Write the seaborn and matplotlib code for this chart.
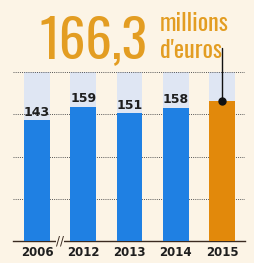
import numpy as np
import pandas as pd
import matplotlib.pyplot as plt
import seaborn as sns
from matplotlib import font_manager as fm

# chart values
years = ["2006", "2012", "2013", "2014", "2015"]
values = [143, 159, 151, 158, 166.3]
labels = ["143", "159", "151", "158", ""]
grid_levels = [50, 100, 150, 200]
y_top = 200
headline = "166,3"
unit_lines = ["millions", "d'euros"]

bg = "#fcf4e6"
blue = "#1f80e3"
orange = "#e2890b"
track = "#dfe6f3"
gold = "#e39d22"

sns.set_theme(style="white")
plt.rcParams["font.family"] = ["DejaVu Sans"]

installed = {f.name for f in fm.fontManager.ttflist}
if "Oswald" in installed:
    head_font, big, small, big_w = "Oswald", 38, 17.5, "bold"
else:
    head_font, big, small, big_w = "DejaVu Sans", 28, 11, "bold"

fig = plt.figure(figsize=(2.54, 2.63), dpi=100, facecolor=bg)
ax = fig.add_axes([0.051, 0.084, 0.914, 0.645])
ax.set_facecolor(bg)

df = pd.DataFrame({"year": years, "value": values, "track": [y_top] * len(years)})

# pale full-height columns behind the bars
sns.barplot(data=df, x="year", y="track", color=track, saturation=1,
            width=0.56, ax=ax, zorder=1)
for p in ax.patches:
    p.set_edgecolor("none")

# dotted gridlines
ax.hlines(grid_levels, -0.52, 4.5, colors="#555555", linestyles=(0, (1, 1.2)),
          linewidth=0.7, zorder=2)

n_track = len(ax.patches)
sns.barplot(data=df, x="year", y="value", hue="year", saturation=1,
            palette=[blue, blue, blue, blue, orange], legend=False,
            width=0.56, ax=ax, zorder=3)
for p in ax.patches[n_track:]:
    p.set_edgecolor("none")

ax.set_xlim(-0.52, 4.5)
ax.set_ylim(0, y_top + 1)

for sp in ["top", "left", "right"]:
    ax.spines[sp].set_visible(False)
ax.spines["bottom"].set_color("#3a2a20")
ax.spines["bottom"].set_linewidth(1.0)
ax.set_yticks([])
ax.set_xlabel("")
ax.set_ylabel("")
ax.tick_params(axis="x", length=0, pad=4)
ax.set_xticks(range(len(years)))
ax.set_xticklabels(years, fontsize=8.5, color="#1e1e1e", fontweight="bold")
ax.get_xticklabels()[-1].set_fontweight("heavy")

# value labels
for i, (v, lab) in enumerate(zip(values, labels)):
    if lab:
        ax.text(i, v + 1.5, lab, ha="center", va="bottom", fontsize=9,
                fontweight="semibold", color="#1e1e1e", zorder=5)

# axis break mark
ax.text(0.5, 0, "//", ha="center", va="center", fontsize=8.5, color="#3a2a20",
        zorder=6, bbox=dict(boxstyle="square,pad=0.0", fc=bg, ec="none"))

# pointer from last bar to the headline
ax.plot([4, 4], [values[-1], 228], color="#111111", lw=1, clip_on=False, zorder=6)
ax.plot(4, values[-1], "o", color="#111111", ms=5, clip_on=False, zorder=7)

# headline
fig.text(0.155, 0.78, headline, fontsize=big, fontweight=big_w, color=gold,
         family=[head_font, "DejaVu Sans"], ha="left", va="baseline")
fig.text(0.628, 0.882, unit_lines[0], fontsize=small, fontweight=big_w, color=gold,
         family=[head_font, "DejaVu Sans"], ha="left", va="baseline")
fig.text(0.628, 0.78, unit_lines[1], fontsize=small, fontweight=big_w, color=gold,
         family=[head_font, "DejaVu Sans"], ha="left", va="baseline")

fig.savefig("out.png", dpi=100, facecolor=bg)
